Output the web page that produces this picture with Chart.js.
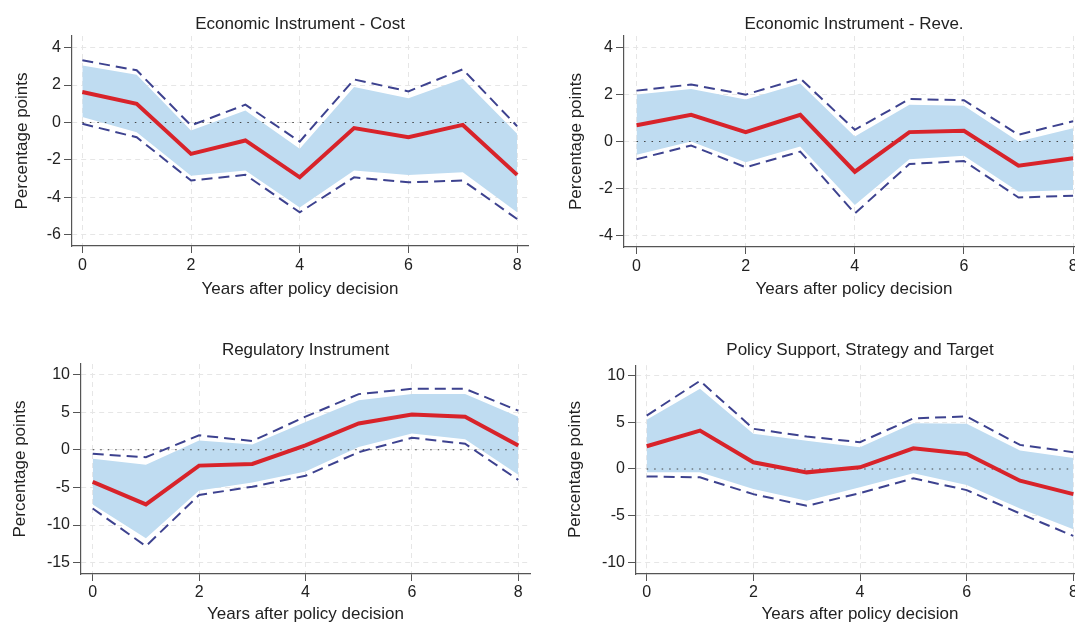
<!DOCTYPE html>
<html>
<head>
<meta charset="utf-8">
<script src="https://cdn.jsdelivr.net/npm/chart.js@4.4.1/dist/chart.umd.min.js"></script>
<style>
html, body { margin: 0; padding: 0; background: #fff; width: 1075px; height: 625px; overflow: hidden; }
.panel { position: absolute; }
</style>
</head>
<body>
<div class="panel" style="left:0px;top:0px;width:540px;height:300px"><canvas id="chartCost"></canvas></div>
<div class="panel" style="left:552px;top:0px;width:544px;height:300px"><canvas id="chartReve"></canvas></div>
<div class="panel" style="left:0px;top:320px;width:540px;height:305px"><canvas id="chartReg"></canvas></div>
<div class="panel" style="left:552px;top:320px;width:544px;height:305px"><canvas id="chartPolicy"></canvas></div>
<script>
// Valores
const years = [0, 1, 2, 3, 4, 5, 6, 7, 8];
const xTicks = [0, 2, 4, 6, 8];
const zeroLine = [0, 0, 0, 0, 0, 0, 0, 0, 0];

// Economic Instrument - Cost
const costEst = [1.63, 1.0, -1.68, -0.96, -2.93, -0.3, -0.79, -0.13, -2.8];
const costUpper = [3.32, 2.79, -0.16, 0.95, -1.02, 2.3, 1.66, 2.84, -0.2];
const costLower = [-0.07, -0.79, -3.1, -2.8, -4.8, -2.93, -3.2, -3.1, -5.16];
const costBandUp = [3.05, 2.55, -0.43, 0.64, -1.41, 1.89, 1.3, 2.34, -0.6];
const costBandLo = [0.29, -0.52, -2.84, -2.57, -4.54, -2.57, -2.8, -2.66, -4.8];
const costTicks = [-6, -4, -2, 0, 2, 4];

// Economic Instrument - Reve.
const reveEst = [0.69, 1.14, 0.4, 1.14, -1.29, 0.4, 0.46, -1.03, -0.71];
const reveUpper = [2.17, 2.43, 2.0, 2.69, 0.5, 1.81, 1.76, 0.29, 0.86];
const reveLower = [-0.76, -0.17, -1.1, -0.43, -3.07, -0.96, -0.83, -2.39, -2.31];
const reveBandUp = [2.0, 2.24, 1.79, 2.47, 0.21, 1.57, 1.53, 0.0, 0.57];
const reveBandLo = [-0.57, 0.0, -0.89, -0.21, -2.71, -0.76, -0.61, -2.14, -2.07];
const reveTicks = [-4, -2, 0, 2, 4];

// Regulatory Instrument
const regEst = [-4.26, -7.26, -2.1, -1.88, 0.58, 3.5, 4.7, 4.4, 0.58];
const regUpper = [-0.54, -0.99, 1.93, 1.17, 4.4, 7.4, 8.1, 8.1, 5.2];
const regLower = [-7.8, -12.8, -6.0, -4.9, -3.45, -0.31, 1.6, 0.8, -4.0];
const regBandUp = [-1.2, -2.0, 1.25, 0.72, 3.7, 6.6, 7.4, 7.4, 4.4];
const regBandLo = [-7.26, -11.75, -5.4, -4.35, -2.87, 0.36, 2.15, 1.4, -3.3];
const regTicks = [-15, -10, -5, 0, 5, 10];

// Policy Support, Strategy and Target
const polEst = [2.43, 4.1, 0.71, -0.36, 0.18, 2.2, 1.6, -1.25, -2.68];
const polUpper = [5.7, 9.4, 4.29, 3.46, 2.86, 5.4, 5.6, 2.57, 1.79];
const polLower = [-0.79, -0.89, -2.68, -3.93, -2.57, -1.0, -2.25, -4.75, -7.14];
const polBandUp = [5.25, 8.57, 3.75, 3.0, 2.32, 4.89, 4.82, 1.96, 1.18];
const polBandLo = [-0.36, -0.36, -2.14, -3.39, -1.96, -0.46, -1.71, -4.21, -6.43];
const polTicks = [-10, -5, 0, 5, 10];

const BAND = "#bfdcf1";
const NAVY = "#3d428f";
const RED = "#d8232a";
const AXIS = "#555555";

Chart.defaults.font.family = "'Liberation Sans', Arial, sans-serif";
Chart.defaults.color = "#222";

function makePanel(id, p) {
    new Chart(document.getElementById(id), {
        type: "line",
        data: {
            labels: years,
            datasets: [
                { data: p.bandUp, fill: "+1", backgroundColor: BAND, borderColor: "rgba(0,0,0,0)", borderWidth: 0, order: 6 },
                { data: p.bandLo, fill: false, borderColor: "rgba(0,0,0,0)", borderWidth: 0, order: 5 },
                { data: zeroLine, borderColor: "#444", borderWidth: 1.1, borderDash: [1.5, 6], order: 4 },
                { data: p.upper, borderColor: NAVY, borderWidth: 2, borderDash: [11, 6], order: 3 },
                { data: p.lower, borderColor: NAVY, borderWidth: 2, borderDash: [11, 6], order: 2 },
                { data: p.est, borderColor: RED, borderWidth: 4, order: 1 }
            ]
        },
        options: {
            responsive: true,
            maintainAspectRatio: false,
            animation: false,
            elements: { point: { radius: 0 }, line: { tension: 0 } },
            layout: { padding: { left: 0, top: 0, right: p.padRight, bottom: 0 } },
            plugins: {
                legend: { display: false },
                tooltip: { enabled: false },
                title: {
                    display: true,
                    text: p.title,
                    fullSize: false,
                    font: { size: 17, weight: "normal" },
                    padding: { top: p.titleTop, bottom: p.titleBottom }
                }
            },
            scales: {
                x: {
                    type: "linear",
                    min: p.xMin,
                    max: p.xMax,
                    afterBuildTicks: s => { s.ticks = xTicks.map(v => ({ value: v })); },
                    afterFit: s => { s.height = p.xHeight; },
                    ticks: { font: { size: 16 }, padding: p.xTickPad, autoSkip: false, maxRotation: 0, callback: v => String(v) },
                    grid: { color: "#e6e6e6", tickColor: AXIS, tickLength: 7 },
                    border: { color: AXIS, width: 1.2, dash: [5, 4] },
                    title: { display: true, text: "Years after policy decision", font: { size: 17 }, padding: { top: 0, bottom: p.xTitleBottom } }
                },
                y: {
                    min: p.yMin,
                    max: p.yMax,
                    afterBuildTicks: s => { s.ticks = p.yTicks.map(v => ({ value: v })); },
                    afterFit: s => { s.width = p.yWidth; },
                    ticks: { font: { size: 16 }, padding: 3, callback: v => String(v) },
                    grid: { color: "#e6e6e6", tickColor: AXIS, tickLength: 8 },
                    border: { color: AXIS, width: 1.2, dash: [5, 4] },
                    title: { display: true, text: "Percentage points", font: { size: 17 }, padding: { top: p.yTitleTop, bottom: 0 } }
                }
            }
        }
    });
}

makePanel("chartCost", {
    title: "Economic Instrument - Cost",
    est: costEst, upper: costUpper, lower: costLower, bandUp: costBandUp, bandLo: costBandLo, yTicks: costTicks,
    xMin: -0.19, xMax: 8.2, yMin: -6.6, yMax: 4.62,
    yWidth: 72, padRight: 12, titleTop: 14, titleBottom: 1.6, xHeight: 54, xTickPad: 3, xTitleBottom: 0.4, yTitleTop: 12.4
});
makePanel("chartReve", {
    title: "Economic Instrument - Reve.",
    est: reveEst, upper: reveUpper, lower: reveLower, bandUp: reveBandUp, bandLo: reveBandLo, yTicks: reveTicks,
    xMin: -0.23, xMax: 8.2, yMin: -4.5, yMax: 4.5,
    yWidth: 72, padRight: 12, titleTop: 14, titleBottom: 1.6, xHeight: 53, xTickPad: 3, xTitleBottom: 0, yTitleTop: 13.8
});
makePanel("chartReg", {
    title: "Regulatory Instrument",
    est: regEst, upper: regUpper, lower: regLower, bandUp: regBandUp, bandLo: regBandLo, yTicks: regTicks,
    xMin: -0.22, xMax: 8.22, yMin: -16.5, yMax: 11.4,
    yWidth: 81, padRight: 10, titleTop: 20.4, titleBottom: 3.2, xHeight: 51, xTickPad: 2, xTitleBottom: 0, yTitleTop: 10.6
});
makePanel("chartPolicy", {
    title: "Policy Support, Strategy and Target",
    est: polEst, upper: polUpper, lower: polLower, bandUp: polBandUp, bandLo: polBandLo, yTicks: polTicks,
    xMin: -0.2, xMax: 8.2, yMin: -11.2, yMax: 11.07,
    yWidth: 84, padRight: 12, titleTop: 20.4, titleBottom: 4.4, xHeight: 51, xTickPad: 2, xTitleBottom: 0, yTitleTop: 13.6
});
</script>
</body>
</html>
